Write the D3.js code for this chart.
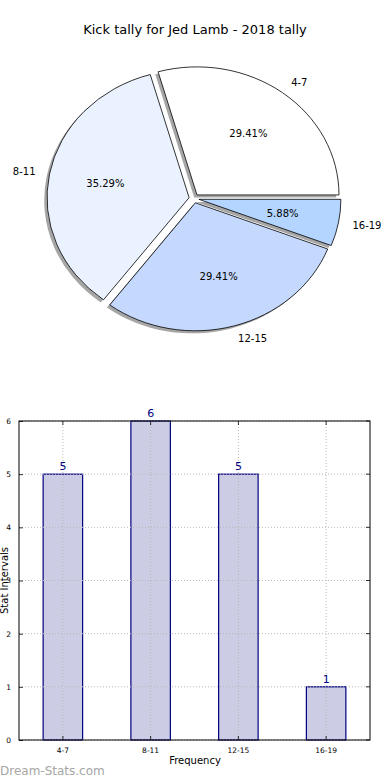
<!DOCTYPE html>
<html><head><meta charset="utf-8">
<script src="https://cdn.jsdelivr.net/npm/d3@7"></script>
<style>html,body{margin:0;padding:0;background:#fff;}svg{display:block;font-family:"DejaVu Sans",sans-serif;}</style>
</head><body>
<script>
const title = "Kick tally for Jed Lamb - 2018 tally";
const categories = ["4-7", "8-11", "12-15", "16-19"];
const values = [5, 6, 5, 1];
const pieColors = ["#ffffff", "#ebf2ff", "#c5d9ff", "#b3d5ff"];
const yTicks = [0, 1, 2, 3, 4, 5, 6];
const xLabel = "Frequency";
const yLabel = "Stat Intervals";
const watermark = "Dream-Stats.com";

const W = 390, H = 780;
const svg = d3.select("body").append("svg").attr("width", W).attr("height", H);

svg.append("text").attr("x", 195).attr("y", 34).attr("text-anchor", "middle")
  .attr("font-size", 13).attr("fill", "#000").text(title);

// ---- Pie ----
const cx = 194, cy = 198.5, rx = 142, ry = 128, explode = 0.035;
const total = d3.sum(values);
const pie = d3.pie().sort(null).startAngle(Math.PI / 2).endAngle(Math.PI / 2 - 2 * Math.PI);
const arcs = pie(values);
const arcGen = d3.arc().innerRadius(0).outerRadius(1);
const mid = d => Math.PI / 2 - (d.startAngle + d.endAngle) / 2; // math angle
const gPie = svg.append("g");
function offs(d) {
  const t = mid(d);
  return [cx + explode * rx * Math.cos(t), cy - explode * ry * Math.sin(t)];
}
// shadows
gPie.selectAll("path.shadow").data(arcs).join("path")
  .attr("class", "shadow")
  .attr("d", arcGen)
  .attr("transform", d => { const [x, y] = offs(d); return `translate(${x - 0.02 * rx},${y + 0.02 * ry}) scale(${rx},${ry})`; })
  .attr("fill", "#4d4d4d").attr("fill-opacity", 0.5);
gPie.selectAll("path.wedge").data(arcs).join("path")
  .attr("class", "wedge")
  .attr("d", arcGen)
  .attr("transform", d => { const [x, y] = offs(d); return `translate(${x},${y}) scale(${rx},${ry})`; })
  .attr("fill", (d, i) => pieColors[i])
  .attr("stroke", "#000").attr("stroke-width", 0.8)
  .attr("vector-effect", "non-scaling-stroke")
  .attr("stroke-linejoin", "miter");
// labels
gPie.selectAll("text.lab").data(arcs).join("text")
  .attr("class", "lab")
  .attr("x", d => { const [x] = offs(d); return x + 1.1 * rx * Math.cos(mid(d)); })
  .attr("y", d => { const [, y] = offs(d); return y - 1.1 * ry * Math.sin(mid(d)); })
  .attr("dy", "0.35em")
  .attr("text-anchor", d => Math.cos(mid(d)) > 0 ? "start" : "end")
  .attr("font-size", 10).attr("fill", "#000")
  .text((d, i) => categories[i]);
gPie.selectAll("text.pct").data(arcs).join("text")
  .attr("class", "pct")
  .attr("x", d => { const [x] = offs(d); return x + 0.6 * rx * Math.cos(mid(d)); })
  .attr("y", d => { const [, y] = offs(d); return y - 0.6 * ry * Math.sin(mid(d)); })
  .attr("dy", "0.35em")
  .attr("text-anchor", "middle")
  .attr("font-size", 10).attr("fill", "#000")
  .text(d => (d.value / total * 100).toFixed(2) + "%");

// ---- Bar chart ----
const L = 19, R = 370, T = 421, B = 740;
const x = d3.scaleBand().domain(categories).range([L, R]).paddingInner(0.55).paddingOuter(0.275);
const y = d3.scaleLinear().domain([0, 6]).range([B, T]);
const gBar = svg.append("g");

gBar.selectAll("rect.bar").data(values).join("rect")
  .attr("class", "bar")
  .attr("x", (d, i) => x(categories[i]))
  .attr("y", d => y(d))
  .attr("width", x.bandwidth())
  .attr("height", d => B - y(d))
  .attr("fill", "#cccce4")
  .attr("stroke", "#000080").attr("stroke-width", 1.2);

// grid
gBar.selectAll("line.hg").data(yTicks).join("line")
  .attr("x1", L).attr("x2", R).attr("y1", d => y(d)).attr("y2", d => y(d))
  .attr("stroke", "#b8b8b8").attr("stroke-width", 1).attr("stroke-dasharray", "1,2");
gBar.selectAll("line.vg").data(categories).join("line")
  .attr("x1", d => x(d) + x.bandwidth() / 2).attr("x2", d => x(d) + x.bandwidth() / 2)
  .attr("y1", T).attr("y2", B)
  .attr("stroke", "#b8b8b8").attr("stroke-width", 1).attr("stroke-dasharray", "1,2");

// value labels
gBar.selectAll("text.val").data(values).join("text")
  .attr("x", (d, i) => x(categories[i]) + x.bandwidth() / 2)
  .attr("y", d => y(d) - 4)
  .attr("text-anchor", "middle").attr("font-size", 11).attr("fill", "#000080")
  .text(d => d);

// axes
const yAxis = d3.axisLeft(y).tickValues(yTicks).tickSize(-4).tickPadding(8).tickFormat(d3.format("d"));
const gy = gBar.append("g").attr("transform", `translate(${L},0)`).call(yAxis);
const xAxis = d3.axisBottom(x).tickSize(-4).tickPadding(8);
const gx = gBar.append("g").attr("transform", `translate(0,${B})`).call(xAxis);
[gy, gx].forEach(g => {
  g.select(".domain").remove();
  g.selectAll("line").attr("stroke", "#000").attr("stroke-width", 0.8);
  g.selectAll("text").attr("font-size", 7.5).attr("font-family", "DejaVu Sans, sans-serif").attr("fill", "#000");
});
// right/top ticks
gBar.selectAll("line.rt").data(yTicks).join("line")
  .attr("x1", R).attr("x2", R - 4).attr("y1", d => y(d)).attr("y2", d => y(d))
  .attr("stroke", "#000").attr("stroke-width", 0.8);
gBar.selectAll("line.tt").data(categories).join("line")
  .attr("x1", d => x(d) + x.bandwidth() / 2).attr("x2", d => x(d) + x.bandwidth() / 2)
  .attr("y1", T).attr("y2", T + 4)
  .attr("stroke", "#000").attr("stroke-width", 0.8);
gBar.append("rect").attr("x", L).attr("y", T).attr("width", R - L).attr("height", B - T)
  .attr("fill", "none").attr("stroke", "#000").attr("stroke-width", 1);

svg.append("text").attr("x", 195).attr("y", 764).attr("text-anchor", "middle")
  .attr("font-size", 10).attr("fill", "#000").text(xLabel);
svg.append("text").attr("transform", `translate(8,${(T + B) / 2}) rotate(-90)`)
  .attr("text-anchor", "middle").attr("font-size", 10).attr("fill", "#000").text(yLabel);
svg.append("text").attr("x", 0).attr("y", 775).attr("font-size", 12)
  .attr("fill", "#a6a6a6").text(watermark);
</script>
</body></html>
